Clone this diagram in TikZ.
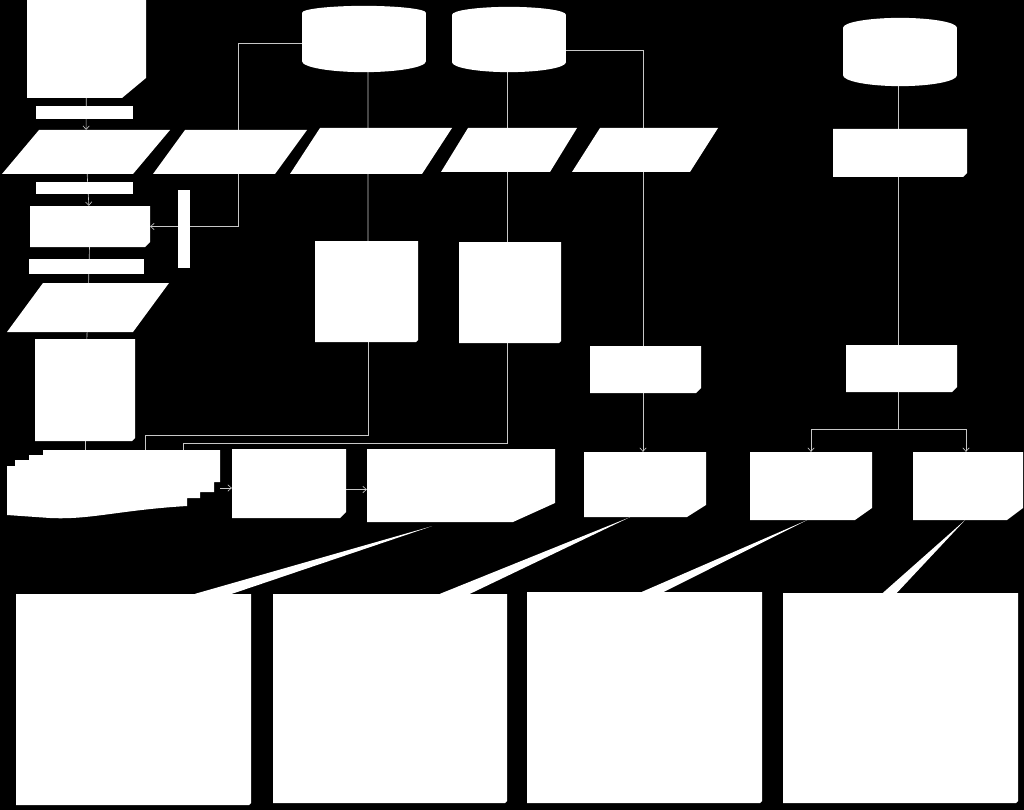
\documentclass[tikz,border=0pt]{standalone}
\usetikzlibrary{calc,arrows.meta}
\pgfdeclarelayer{bg}
\pgfdeclarelayer{lines}
\pgfsetlayers{bg,lines,main}
\tikzset{
  box/.style 2 args={draw=none, inner sep=0pt, minimum width=#1*0.05cm, minimum height=#2*0.05cm},
  solid box/.style 2 args={box={#1}{#2}, fill=white},
  cut/.style 2 args={path picture={\fill[white] (path picture bounding box.south west)
      -- ($(path picture bounding box.south east)+(-#1,0)$)
      -- ($(path picture bounding box.south east)+(0,-#2)$)
      -- (path picture bounding box.north east)
      -- (path picture bounding box.north west) -- cycle;}},
  slab/.style={path picture={\fill[white] (path picture bounding box.south west)
      -- ($(path picture bounding box.south east)+(-#1,0)$)
      -- (path picture bounding box.north east)
      -- ($(path picture bounding box.north west)+(#1,0)$) -- cycle;}},
  wire/.style={draw=white!78!black, line width=0.9pt},
  arr/.style={wire, -{Straight Barb[length=5pt,width=9pt]}},
}
\begin{document}
\begin{tikzpicture}[x=0.05cm, y=-0.05cm]
  \useasboundingbox (0,0) rectangle (1024,810);
  \begin{pgfonlayer}{bg}
    \fill[black] (0,0) rectangle (1024,810);
  \end{pgfonlayer}

  % left column
  \node[box={119}{98}, cut={24}{20}] (d0) at (86.5,49) {};
  \node[solid box={97}{13}] (bar1) at (84.5,112.5) {};
  \node[box={168}{44}, slab=37] (p1) at (86,152) {};
  \node[solid box={97}{12}] (bar2) at (84.5,188) {};
  \node[box={120}{41}, cut={5}{5}] (b1) at (90,226.5) {};
  \node[solid box={12}{78}] (tick) at (184,229) {};
  \node[solid box={115}{15}] (bar3) at (86.5,266.5) {};
  \node[box={162}{49}, slab=36] (p6) at (88,307.5) {};
  \node[box={100}{102}, cut={3}{3}] (b2) at (85,390) {};

  % stores
  \node[solid box={124}{48}] (c1) at (364,37) {};
  \fill[white] (c1.north) ellipse [x radius=62, y radius=7];
  \fill[white] (c1.south) ellipse [x radius=62, y radius=11];
  \node[solid box={114}{47}] (c2) at (509,38.5) {};
  \fill[white] (c2.north) ellipse [x radius=57, y radius=8];
  \fill[white] (c2.south) ellipse [x radius=57, y radius=10];
  \node[solid box={114}{47}] (c3) at (900,51.5) {};
  \fill[white] (c3.north) ellipse [x radius=57, y radius=10];
  \fill[white] (c3.south) ellipse [x radius=57, y radius=11];

  % top row
  \node[box={154}{44}, slab=32] (p2) at (230,152) {};
  \node[box={162}{46}, slab=30] (p3) at (371,151) {};
  \node[box={136}{44}, slab=27] (p4) at (509,150) {};
  \node[box={146}{44}, slab=28] (p5) at (645,150) {};
  \node[box={134}{48}, cut={4}{4}] (s2a) at (900,153) {};

  % middle
  \node[box={103}{101}, cut={2}{2}] (r1) at (366.5,291.5) {};
  \node[box={102}{101}, cut={2}{2}] (r2) at (510,292.5) {};
  \node[box={111}{47}, cut={5}{5}] (s1) at (645.5,369.5) {};
  \node[box={111}{47}, cut={5}{5}] (s2) at (901.5,368.5) {};

  % lower row
  \node[box={213}{68}] (stack) at (113.5,484) {};
  \fill[white] (43,450) -- (220,450) -- (220,482) -- (214,482) -- (214,492) -- (200,492)
    -- (200,498) -- (187,498) -- (187,506) .. controls (120,510) and (90,520) .. (50,518)
    -- (7,515) -- (7,466) -- (15,466) -- (15,460) -- (29,460) -- (29,455) -- (43,455) -- cycle;
  \node[box={114}{69}, cut={6}{6}] (u1) at (289,483.5) {};
  \node[box={188}{73}, cut={42}{19}] (u2) at (461,485.5) {};
  \node[box={122}{65}, cut={19}{12}] (t1) at (645,484.5) {};
  \node[box={122}{68}, cut={17}{12}] (t2) at (811,486) {};
  \node[box={110}{68}, cut={16}{12}] (t3) at (968,486) {};

  % bottom row
  \node[box={235}{211}, cut={2}{2}] (v1) at (133.5,699.5) {};
  \node[box={234}{209}, cut={2}{2}] (v2) at (390,698.5) {};
  \node[box={235}{211}, cut={2}{2}] (v3) at (644.5,697.5) {};
  \node[box={235}{210}, cut={2}{2}] (v4) at (900.5,698) {};

  % callouts
  \fill[white] ($(u2.south)+(-29,4)$) -- ($(v1.north west)+(179,0)$) -- ($(v1.north west)+(216,0)$) -- cycle;
  \fill[white] ($(t1.south)+(-15,0)$) -- ($(v2.north west)+(167,0)$) -- ($(v2.north west)+(197,0)$) -- cycle;
  \fill[white] ($(t2.south)+(-4,0)$) -- ($(v3.north west)+(115,0)$) -- ($(v3.north west)+(137,0)$) -- cycle;
  \fill[white] ($(t3.south)+(-3,0)$) -- ($(v4.north west)+(100,0)$) -- ($(v4.north west)+(114,0)$) -- cycle;

  \coordinate (stackout) at ($(stack.east)+(0,4)$);
  \coordinate (u1out) at ($(u1.east)+(0,6)$);
  \begin{pgfonlayer}{lines}
    \draw[arr] (d0) -- (p1);
    \draw[arr] (p1) -- (b1);
    \draw[wire] (b1) -- (p6);
    \draw[wire] (p6) -- (b2);
    \draw[wire] (b2) -- (b2 |- stack.north);
    \draw[wire] ($(c1.west)+(0,6)$) -| ($(p2.north)+(8,0)$);
    \draw[arr] ($(p2.south)+(8,0)$) |- (b1.east);
    \draw[wire] ($(c1.south)+(4,0)$) -- ($(r1.north)+(1.5,0)$);
    \draw[wire] ($(r1.south)+(1.5,0)$) -- ++(0,93) -| (145,450);
    \draw[wire] ($(c2.south)+(-2,0)$) -- ($(r2.north)+(-3,0)$);
    \draw[wire] ($(r2.south)+(-3,0)$) -- ++(0,100) -| (183,450);
    \draw[wire] ($(c2.east)+(0,11.5)$) -| ($(p5.north)+(-2,0)$);
    \draw[wire] ($(p5.south)+(-2,0)$) -- ($(s1.north)+(-2.5,0)$);
    \draw[arr] ($(s1.south)+(-2.5,0)$) -- ($(t1.north)+(-2,0)$);
    \draw[wire] ($(c3.south)+(-2,0)$) -- ($(s2.north)+(-3.5,0)$);
    \draw[arr] ($(s2.south)+(-3.5,0)$) -- ++(0,37) -| (t2.north);
    \draw[arr] ($(s2.south)+(-3.5,0)$) -- ++(0,37) -| ($(t3.north)+(-2,0)$);
    \draw[arr] (stackout) -- (stackout -| u1.west);
    \draw[arr] (u1out) -- (u1out -| u2.west);
  \end{pgfonlayer}
\end{tikzpicture}
\end{document}
